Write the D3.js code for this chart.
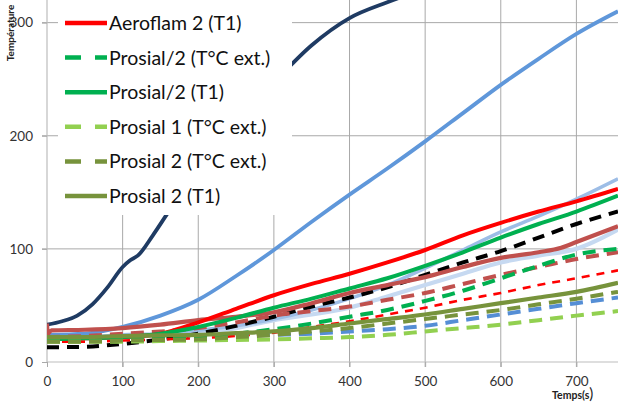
<!DOCTYPE html>
<html>
<head>
<meta charset="utf-8">
<script src="https://cdn.jsdelivr.net/npm/d3@7"></script>
<style>
  html, body { margin: 0; padding: 0; background: #fff; }
  svg { display: block; font-family: Lato, "Open Sans", "Liberation Sans", sans-serif; }
</style>
</head>
<body>
<svg id="chart" width="618" height="406"></svg>
<script>
// ---------- data ----------
const times = [0, 50, 100, 150, 200, 250, 300, 350, 400, 450, 500, 550, 600, 650, 700, 755];
const navyTimes = [0, 20, 40, 60, 80, 100, 110, 120, 140, 160, 200, 250, 300, 350, 400, 450, 500];
const navyValues = [33, 36, 41, 51, 66, 84, 90, 94, 112, 132, 170, 212, 247, 280, 304, 318, 330];
const brownTimes = [0, 1, 6, 50, 100, 150, 200, 250, 300, 350, 400, 450, 500, 550, 600, 650, 680, 700, 755];
const brownValues     = [34, 25, 28, 28.5, 30, 33, 37, 40, 44, 52, 61, 68, 75, 84, 92, 97, 101, 106, 120];
const medBlueValues   = [24, 25, 31, 41, 55, 76, 99, 124, 148, 171, 195, 220, 245, 268, 290, 310];
const lightBlueValues = [22, 22, 24, 25, 28, 32, 38, 46, 56, 68, 83, 99, 115, 129, 144, 162];
const paleBlueValues  = [21, 21, 22, 24, 26, 30, 37, 42, 48, 58, 68, 78, 88, 94, 100, 117];
const blackDashValues = [13, 13.5, 16, 20, 25, 32, 40, 49, 57, 66, 77, 88, 98, 110, 122, 133];
const brownDashValues = [22, 23, 25, 27, 30, 35, 41, 45, 49, 55, 61, 69, 77, 84, 91, 97];
const redDashValues   = [18, 18, 19, 20, 21, 23, 26, 31, 36, 42, 48, 55, 61, 68, 74, 81];
const blueDashValues  = [20, 20, 21, 21, 22, 23, 24, 25, 27, 29, 32, 37, 42, 47, 52, 57];
const aeroflam2T1     = [20, 21, 22, 25, 35, 47, 59, 69, 78, 88, 99, 112, 123, 133, 142, 153];
const prosialHalfExt  = [20, 20, 20, 21, 22, 25, 29, 34, 40, 46, 54, 63, 74, 85, 95, 100];
const prosialHalfT1   = [20, 21, 22, 25, 31, 39, 48, 56, 65, 74, 85, 97, 110, 122, 133, 147];
const prosial1Ext     = [18, 18, 18, 18.5, 19, 19.5, 20, 21, 22, 24, 27, 30, 33, 37, 41, 45];
const prosial2Ext     = [18, 18, 19, 19.5, 20, 22, 24, 27, 30, 34, 38, 42, 46, 51, 56, 62];
const prosial2T1      = [22, 22, 23, 23.5, 24, 25.5, 27, 30, 34, 38, 42, 47, 52, 57, 62, 70];

const xTicks = [0, 100, 200, 300, 400, 500, 600, 700];
const yTicks = [0, 100, 200, 300];
const legendNames = ["Aeroflam 2 (T1)", "Prosial/2 (T°C ext.)", "Prosial/2 (T1)",
                     "Prosial 1 (T°C ext.)", "Prosial 2 (T°C ext.)", "Prosial 2 (T1)"];

// series list (drawing order), styles kept separate from data
const series = [
  {name: "Série A", t: navyTimes, v: navyValues, color: "#1f3b63", w: 3.8, dash: null},
  {name: "Série B", t: times, v: medBlueValues, color: "#5f97da", w: 3.8, dash: null},
  {name: "Série C", t: times, v: paleBlueValues, color: "#c6d9f1", w: 4.2, dash: null},
  {name: "Série D", t: times, v: lightBlueValues, color: "#9dbde6", w: 3.6, dash: null},
  {name: "Série E", t: times, v: blackDashValues, color: "#000000", w: 4, dash: "12,8"},
  {name: "Série F", t: brownTimes, v: brownValues, color: "#c0504d", w: 4.2, dash: null},
  {name: "Série G", t: times, v: brownDashValues, color: "#c0504d", w: 4, dash: "13,8"},
  {name: "Série H", t: times, v: redDashValues, color: "#ff0000", w: 2.6, dash: "8,7"},
  {name: "Série I", t: times, v: blueDashValues, color: "#558ed5", w: 4, dash: "13,8"},
  {name: legendNames[0], t: times, v: aeroflam2T1, color: "#ff0000", w: 4, dash: null},
  {name: legendNames[1], t: times, v: prosialHalfExt, color: "#00b050", w: 4, dash: "13,8"},
  {name: legendNames[2], t: times, v: prosialHalfT1, color: "#00b050", w: 4, dash: null},
  {name: legendNames[3], t: times, v: prosial1Ext, color: "#92d050", w: 4, dash: "13,8"},
  {name: legendNames[4], t: times, v: prosial2Ext, color: "#77933c", w: 4, dash: "13,8"},
  {name: legendNames[5], t: times, v: prosial2T1, color: "#77933c", w: 4.2, dash: null}
];

// ---------- layout ----------
const svg = d3.select("#chart");
const pL = 47, pR = 618, pT = 0, pB = 362;
const x = d3.scaleLinear().domain([0, 755]).range([pL, pR]);
const y = d3.scaleLinear().domain([0, 320]).range([pB, pT]);

svg.append("defs").append("clipPath").attr("id", "plotClip")
  .append("rect").attr("x", pL).attr("y", pT).attr("width", pR - pL).attr("height", pB - pT);

// gridlines
const grid = svg.append("g");
grid.selectAll("line.v").data(xTicks.filter(d => d > 0)).join("line")
  .attr("x1", d => x(d)).attr("x2", d => x(d))
  .attr("y1", pT).attr("y2", pB + 5)
  .attr("stroke", "#a9a9a9").attr("stroke-width", 1);
grid.selectAll("line.h").data(yTicks.filter(d => d > 0)).join("line")
  .attr("x1", pL - 5).attr("x2", pR)
  .attr("y1", d => y(d)).attr("y2", d => y(d))
  .attr("stroke", "#a9a9a9").attr("stroke-width", 1);

// axes
const yAxis = svg.append("g").attr("transform", `translate(${pL},0)`)
  .call(d3.axisLeft(y).tickValues(yTicks).tickSize(5).tickPadding(9));
const xAxis = svg.append("g").attr("transform", `translate(0,${pB})`)
  .call(d3.axisBottom(x).tickValues(xTicks).tickSize(5).tickPadding(9));
[yAxis, xAxis].forEach(g => {
  g.select(".domain").attr("stroke", "#bdbdbd").attr("stroke-width", 1.2);
  g.selectAll(".tick line").attr("stroke", "#a9a9a9");
  g.selectAll(".tick text").attr("fill", "#333").style("font-size", "13.5px")
    .style("font-family", "Lato, 'Open Sans', sans-serif");
});
yAxis.select(".domain").attr("d", `M0,${pT}V${pB}`);
xAxis.select(".domain").attr("d", `M${pL},0H${pR}`);

// lines
const lineGen = d3.line().curve(d3.curveMonotoneX);
const plot = svg.append("g").attr("clip-path", "url(#plotClip)");
plot.selectAll("path.series").data(series).join("path")
  .attr("class", "series")
  .attr("d", s => lineGen(s.t.map((t, i) => [x(t), y(s.v[i])])))
  .attr("fill", "none")
  .attr("stroke", s => s.color)
  .attr("stroke-width", s => s.w)
  .attr("stroke-dasharray", s => s.dash)
  .attr("stroke-linejoin", "round");

// legend
const legendSeries = series.filter(s => legendNames.includes(s.name));
const legend = svg.append("g");
legend.append("rect").attr("x", 58).attr("y", -2).attr("width", 234).attr("height", 217).attr("fill", "#fff");
const items = legend.selectAll("g.item").data(legendSeries).join("g")
  .attr("transform", (d, i) => `translate(0,${23 + i * 34.6})`);
items.append("line").attr("x1", 65).attr("x2", 107).attr("y1", 0).attr("y2", 0)
  .attr("stroke", d => d.color).attr("stroke-width", 4.5)
  .attr("stroke-dasharray", d => d.dash ? "16,14" : null);
items.append("text").attr("x", 109).attr("y", 0).attr("dy", "0.36em")
  .style("font-size", "19.5px").attr("fill", "#111").text(d => d.name);

// axis titles
svg.append("text").attr("transform", "translate(14,33) rotate(-90)")
  .attr("text-anchor", "middle").style("font-size", "10px").style("font-weight", "bold")
  .attr("fill", "#222").text("Température");
const xt = svg.append("text").attr("x", 552).attr("y", 399).attr("fill", "#222");
xt.append("tspan").style("font-size", "10.5px").style("font-weight", "bold").text("Temps(s");
xt.append("tspan").style("font-size", "15px").text(")");
</script>
</body>
</html>
